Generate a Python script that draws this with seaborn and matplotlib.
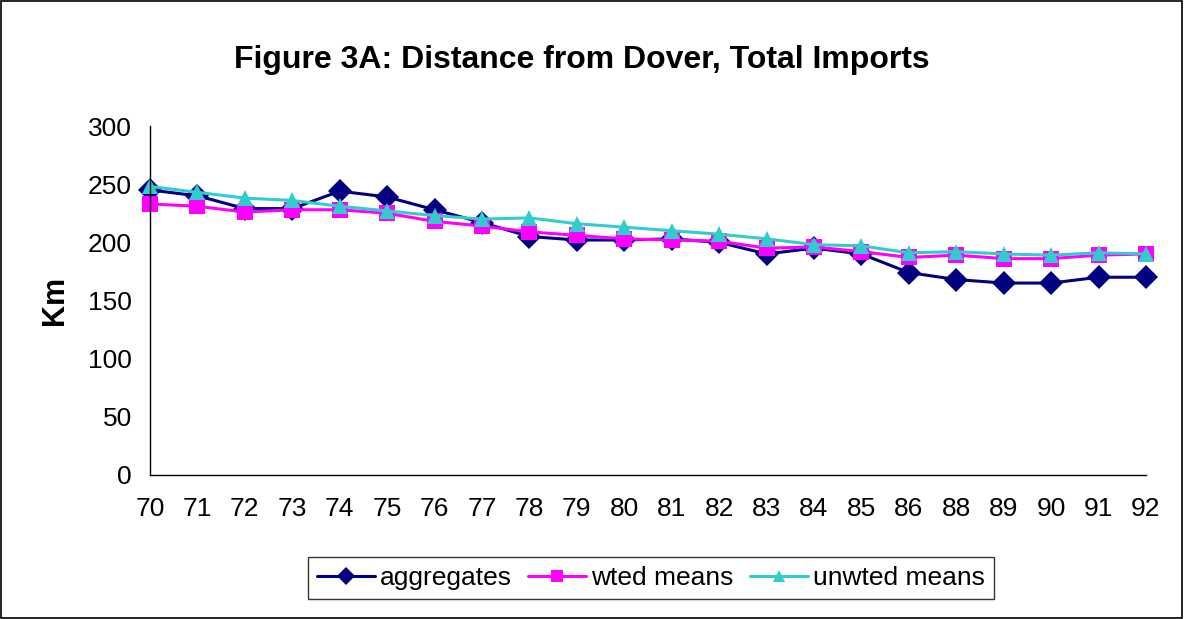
import numpy as np
import pandas as pd
import matplotlib
matplotlib.use("Agg")
import matplotlib.pyplot as plt
import seaborn as sns
from matplotlib.patches import Rectangle

years = ["70", "71", "72", "73", "74", "75", "76", "77", "78", "79", "80",
         "81", "82", "83", "84", "85", "86", "88", "89", "90", "91", "92"]
aggregates = [245, 240, 229, 229, 244, 239, 228, 217, 205, 202, 202,
              203, 200, 190, 195, 190, 174, 168, 165, 165, 170, 170]
wted_means = [233, 231, 226, 228, 228, 225, 218, 214, 209, 206, 203,
              202, 201, 195, 196, 192, 187, 189, 186, 186, 189, 190]
unwted_means = [248, 243, 238, 236, 231, 227, 223, 220, 221, 216, 213,
                210, 207, 203, 198, 197, 191, 192, 190, 189, 191, 190]
series_names = ["aggregates", "wted means", "unwted means"]
y_ticks = [0, 50, 100, 150, 200, 250, 300]

palette = {"aggregates": "#000080", "wted means": "#FF00FF", "unwted means": "#33CCCC"}
markers = {"aggregates": "D", "wted means": "s", "unwted means": "^"}

df = pd.concat([
    pd.DataFrame({"year": years, "km": vals, "series": name})
    for name, vals in zip(series_names, [aggregates, wted_means, unwted_means])
], ignore_index=True)
df["pos"] = df.groupby("series").cumcount()

sns.set_theme(style="white")
plt.rcParams["font.family"] = ["Liberation Sans", "DejaVu Sans"]
plt.rcParams["text.color"] = "black"
plt.rcParams["axes.labelcolor"] = "black"
plt.rcParams["xtick.color"] = "black"
plt.rcParams["ytick.color"] = "black"

fig = plt.figure(figsize=(11.84, 6.19), dpi=100)
ax = fig.add_axes([150 / 1184, 1 - 475 / 619, (1146 - 150) / 1184, (475 - 126) / 619])

sns.lineplot(data=df, x="pos", y="km", hue="series", style="series",
             palette=palette, markers=markers, dashes=False, sort=False,
             linewidth=2.2, markersize=12, markeredgewidth=0, ax=ax, legend=True)

ax.set_xlim(0, len(years) - 1)
ax.set_ylim(0, 300)
ax.set_xticks(range(len(years)))
ax.set_xticklabels(years)
ax.set_yticks(y_ticks)
ax.tick_params(axis="both", labelsize=19, colors="black", direction="out")
ax.tick_params(axis="x", length=6, width=1, pad=10)
ax.tick_params(axis="y", length=4, width=1, pad=9)
ax.set_xlabel("")
ax.set_ylabel("")
for side in ["top", "right"]:
    ax.spines[side].set_visible(False)
for side in ["left", "bottom"]:
    ax.spines[side].set_color("black")
    ax.spines[side].set_linewidth(1)
for line in ax.lines:
    line.set_clip_on(False)

fig.text(582 / 1184, 1 - 60 / 619, "Figure 3A: Distance from Dover, Total Imports",
         ha="center", va="center", fontsize=23, fontweight="bold", color="black")
fig.text(55 / 1184, 1 - 300 / 619, "Km", ha="center", va="center",
         rotation=90, fontsize=22, fontweight="bold", color="black")

handles, labels = ax.get_legend_handles_labels()
ax.get_legend().remove()
leg = fig.legend(handles, labels, loc="center", bbox_to_anchor=(651 / 1184, 1 - 578 / 619),
                 ncol=3, fontsize=19, frameon=True, fancybox=False, shadow=False,
                 handlelength=2.2, handletextpad=0.2, columnspacing=0.6,
                 borderpad=0.35, borderaxespad=0)
leg.get_frame().set_edgecolor("black")
leg.get_frame().set_linewidth(1)
for t in leg.get_texts():
    t.set_color("black")
for h in leg.legend_handles:
    h.set_markersize(9)

fig.patches.append(Rectangle((0.001, 0.002), 0.997, 0.996, transform=fig.transFigure,
                             fill=False, edgecolor="black", linewidth=1.2))

fig.savefig("out.png", dpi=100)
